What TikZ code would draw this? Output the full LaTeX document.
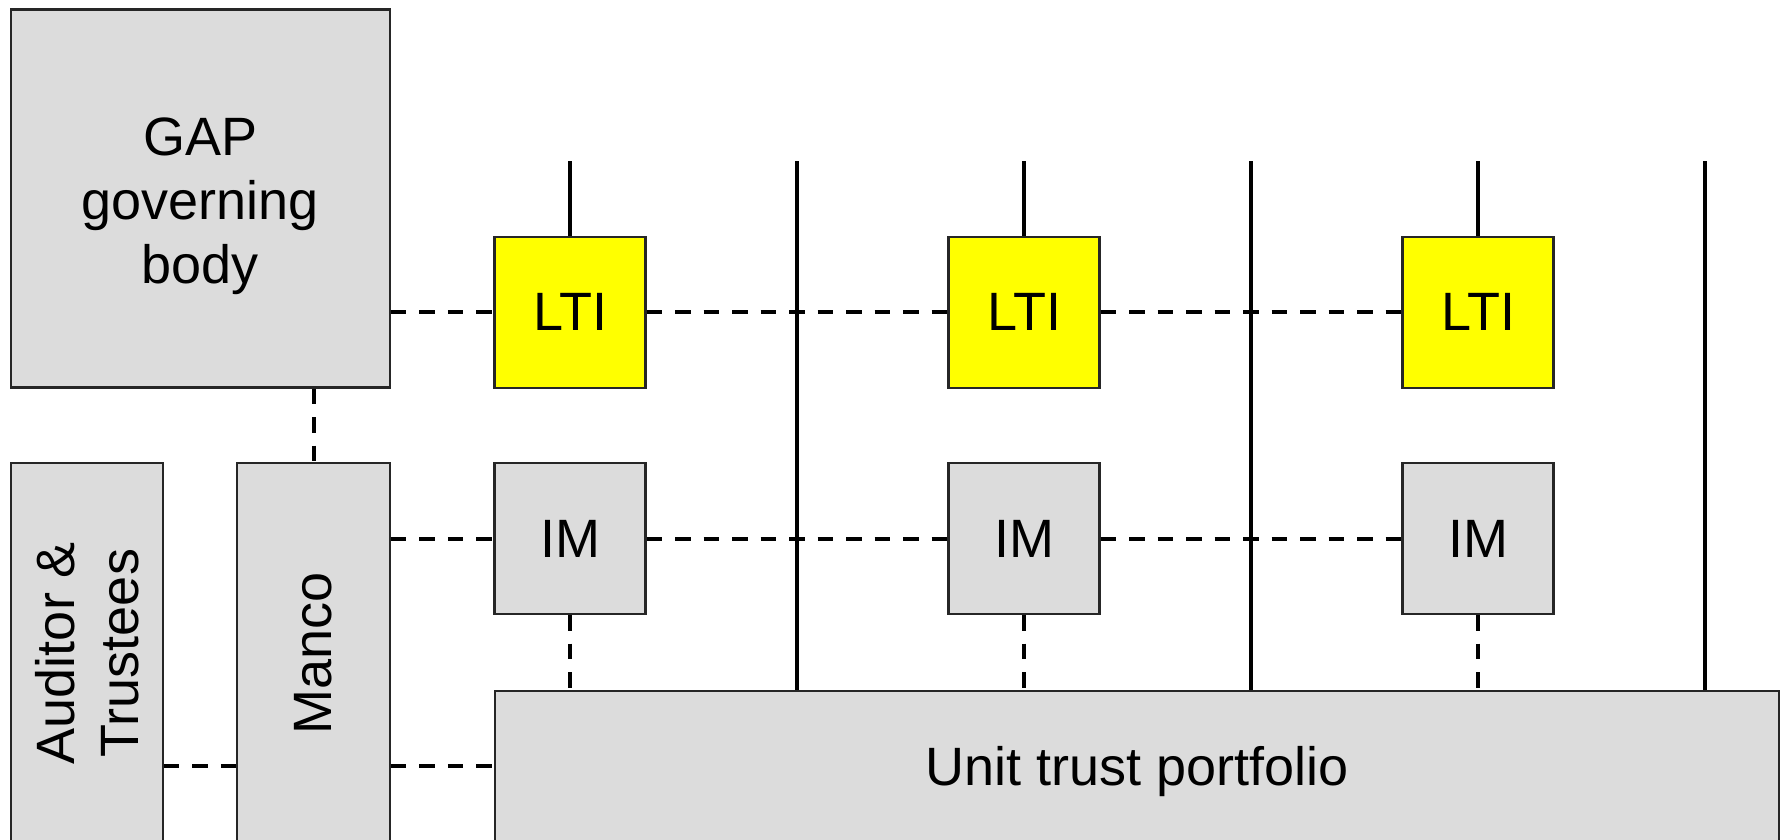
\documentclass[tikz,border=0pt]{standalone}
\usepackage{fontspec}
\setmainfont{Liberation Sans}
\definecolor{boxgray}{HTML}{DCDCDC}
\definecolor{ltiyellow}{HTML}{FFFF00}
\tikzset{
  box/.style={draw=black!85, line width=2.2pt, fill=boxgray, inner sep=0pt,
    font=\fontsize{54}{64}\selectfont},
  cellbox/.style={box, minimum width=151pt, minimum height=151pt},
  ltibox/.style={cellbox, fill=ltiyellow},
  wire/.style={line width=3.4pt},
  dlink/.style={line width=4pt, dash pattern=on 15.5pt off 13pt},
}
\begin{document}
\begin{tikzpicture}[x=1pt, y=-1pt]
  \useasboundingbox (0,0) rectangle (1788,840);
  \clip (0,0) rectangle (1788,840);

  % governing body and the two columns on the left
  \node[box, minimum width=379pt, minimum height=378pt, align=center]
    (gap) at (200.2,198.5) {\rule{0pt}{52.3pt}GAP\\governing\\body};
  \node[box, minimum width=152pt, minimum height=380pt]
    (auditor) at (86.8,653)
    {\rotatebox{90}{\vbox{\halign{\hfil#\hfil\cr Auditor \&\cr Trustees\cr}}}};
  \node[box, minimum width=152.5pt, minimum height=380pt]
    (manco) at (313.6,653) {\rotatebox{90}{Manco}};

  % LTI and IM boxes, one pair per column
  \node[ltibox] (lti1) at (570,312.2) {LTI};
  \node[ltibox] (lti2) at (1024,312.2) {LTI};
  \node[ltibox] (lti3) at (1478,312.2) {LTI};
  \node[cellbox] (im1) at (570,538.5) {IM};
  \node[cellbox] (im2) at (1024,538.5) {IM};
  \node[cellbox] (im3) at (1478,538.5) {IM};

  % portfolio along the bottom
  \node[box, minimum width=1284pt, minimum height=150.3pt, text depth=0pt]
    (unit) at (1137,765.85) {Unit trust portfolio};

  % free top ends of the solid lines
  \coordinate (t1) at (570,161);
  \coordinate (t2) at (1024,161);
  \coordinate (t3) at (1478,161);
  \coordinate (v1) at (797,161);
  \coordinate (v2) at (1251,161);
  \coordinate (v3) at (1705,161);

  % solid lines
  \draw[wire] (t1) -- (lti1.north);
  \draw[wire] (t2) -- (lti2.north);
  \draw[wire] (t3) -- (lti3.north);
  \draw[wire] (v1) -- (v1 |- unit.north);
  \draw[wire] (v2) -- (v2 |- unit.north);
  \draw[wire] (v3) -- (v3 |- unit.north);

  % dashed links: LTI row
  \draw[dlink] (gap.east |- lti1.west) -- (lti1.west);
  \draw[dlink] (lti1.east) -- (lti2.west);
  \draw[dlink] (lti2.east) -- (lti3.west);

  % dashed links: governing body down to Manco
  \draw[dlink] (manco.north |- gap.south) -- (manco.north);

  % dashed links: IM row
  \draw[dlink] (manco.east |- im1.west) -- (im1.west);
  \draw[dlink] (im1.east) -- (im2.west);
  \draw[dlink] (im2.east) -- (im3.west);

  % dashed links: IM boxes down to the portfolio
  \draw[dlink] (im1.south) -- (im1.south |- unit.north);
  \draw[dlink] (im2.south) -- (im2.south |- unit.north);
  \draw[dlink] (im3.south) -- (im3.south |- unit.north);

  % dashed links: bottom row
  \draw[dlink] (auditor.east |- unit.center) -- (manco.west |- unit.center);
  \draw[dlink] (manco.east |- unit.center) -- (unit.west);
\end{tikzpicture}
\end{document}
